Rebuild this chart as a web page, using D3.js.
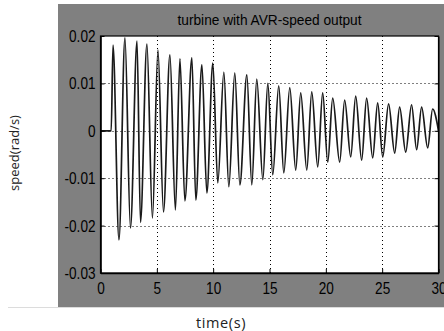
<!DOCTYPE html>
<html>
<head>
<meta charset="utf-8">
<script src="https://cdn.jsdelivr.net/npm/d3@7"></script>
<style>
  html, body { margin: 0; padding: 0; background: #fff; }
  svg { display: block; }
</style>
</head>
<body>
<div id="chart"></div>
<script>
// values
const xTicks = [0, 5, 10, 15, 20, 25, 30];
const yTicks = [-0.03, -0.02, -0.01, 0, 0.01, 0.02];

// flat start before the disturbance
const startTimes = [0, 0.95];
const startValues = [0, 0];

// local maxima of the speed output
const peakTimes = [1.11, 2.17, 3.24, 4.12, 5.10, 6.16, 7.05, 8.11, 9.00, 9.97,
  10.95, 11.92, 12.99, 13.87, 14.85, 15.82, 16.80, 17.77, 18.75, 19.72,
  20.61, 21.67, 22.65, 23.62, 24.60, 25.57, 26.55, 27.61, 28.50, 29.48];
const peakValues = [0.0181, 0.0196, 0.0189, 0.0183, 0.0170, 0.0160, 0.0152, 0.0154, 0.0139, 0.0143,
  0.0124, 0.0122, 0.0118, 0.0109, 0.0100, 0.0095, 0.0091, 0.0080, 0.0082, 0.0080,
  0.0069, 0.0065, 0.0073, 0.0069, 0.0059, 0.0057, 0.0050, 0.0055, 0.0050, 0.0046];

// local minima of the speed output
const troughTimes = [1.64, 2.66, 3.55, 4.61, 5.59, 6.65, 7.49, 8.46, 9.44, 10.41,
  11.39, 12.37, 13.43, 14.41, 15.29, 16.27, 17.33, 18.31, 19.28, 20.17,
  21.23, 22.21, 23.18, 24.16, 25.05, 26.11, 27.09, 28.06, 29.04];
const troughValues = [-0.0230, -0.0205, -0.0193, -0.0184, -0.0171, -0.0167, -0.0148, -0.0146, -0.0131, -0.0110,
  -0.0118, -0.0114, -0.0114, -0.0103, -0.0093, -0.0089, -0.0083, -0.0083, -0.0076, -0.0066,
  -0.0066, -0.0055, -0.0062, -0.0057, -0.0055, -0.0047, -0.0045, -0.0040, -0.0036];

const endTimes = [30];
const endValues = [0.0];

const width = 444;
const height = 331;
const labelFont = '"Liberation Sans", Arial, sans-serif';
const squeeze = 0.8; // the original tick font is a narrow face

const svg = d3.select('#chart')
  .append('svg')
  .attr('width', width)
  .attr('height', height);

// figure background
svg.append('rect')
  .attr('x', 0).attr('y', 0)
  .attr('width', width).attr('height', height)
  .attr('fill', '#ffffff');

svg.append('rect')
  .attr('x', 58).attr('y', 4)
  .attr('width', width - 58).attr('height', 303)
  .attr('fill', '#808080');

svg.append('line')
  .attr('x1', 8).attr('x2', width)
  .attr('y1', 307.5).attr('y2', 307.5)
  .attr('stroke', '#dcdcdc');

const x = d3.scaleLinear().domain([0, 30]).range([100.5, 438.5]);
const y = d3.scaleLinear().domain([-0.03, 0.02]).range([273, 36]);

// plot area
svg.append('rect')
  .attr('x', x(0)).attr('y', y(0.02))
  .attr('width', x(30) - x(0)).attr('height', y(-0.03) - y(0.02))
  .attr('fill', '#fff');

// dotted grid
const grid = svg.append('g')
  .attr('stroke', '#000')
  .attr('stroke-width', 1)
  .attr('stroke-dasharray', '1,3');

grid.selectAll('.vg')
  .data(xTicks.slice(1, -1))
  .enter()
  .append('line')
  .attr('x1', d => Math.round(x(d)) + 0.5).attr('x2', d => Math.round(x(d)) + 0.5)
  .attr('y1', y(0.02)).attr('y2', y(-0.03));

grid.selectAll('.hg')
  .data(yTicks.slice(1, -1))
  .enter()
  .append('line')
  .attr('y1', d => Math.round(y(d)) + 0.5).attr('y2', d => Math.round(y(d)) + 0.5)
  .attr('x1', x(0)).attr('x2', x(30));

// signal
const points = [];
startTimes.forEach((t, i) => points.push([t, startValues[i]]));
peakTimes.forEach((t, i) => points.push([t, peakValues[i]]));
troughTimes.forEach((t, i) => points.push([t, troughValues[i]]));
endTimes.forEach((t, i) => points.push([t, endValues[i]]));
points.sort((a, b) => a[0] - b[0]);

svg.append('clipPath')
  .attr('id', 'clip')
  .append('rect')
  .attr('x', x(0)).attr('y', y(0.02))
  .attr('width', x(30) - x(0)).attr('height', y(-0.03) - y(0.02));

const line = d3.line()
  .x(d => x(d[0]))
  .y(d => y(d[1]))
  .curve(d3.curveMonotoneX);

svg.append('path')
  .datum(points)
  .attr('clip-path', 'url(#clip)')
  .attr('d', line)
  .attr('fill', 'none')
  .attr('stroke', '#1a1a1a')
  .attr('stroke-width', 1.7);

// axes
const fmt = d => d === 0 ? '0' : d.toFixed(2);

const xAxis = svg.append('g')
  .attr('transform', `translate(0,${y(-0.03)})`)
  .call(d3.axisBottom(x).tickValues(xTicks).tickSize(-4).tickSizeOuter(0).tickPadding(9));

const yAxis = svg.append('g')
  .attr('transform', `translate(${x(0)},0)`)
  .call(d3.axisLeft(y).tickValues(yTicks).tickFormat(fmt).tickSize(-4).tickSizeOuter(0).tickPadding(5));

// right side ticks
svg.append('g')
  .attr('transform', `translate(${x(30)},0)`)
  .call(d3.axisRight(y).tickValues(yTicks).tickFormat('').tickSize(-4).tickSizeOuter(0));

[xAxis, yAxis].forEach(a => {
  a.selectAll('text')
    .attr('fill', '#000')
    .style('font-family', labelFont)
    .style('font-size', '17px')
    .attr('transform', `scale(${squeeze},1)`);
  a.select('.domain').attr('stroke', '#000').attr('stroke-width', 1.6);
});
// keep the y labels' right edge at the same spot after squeezing
yAxis.selectAll('text').attr('x', -5 / squeeze);

// box
svg.append('rect')
  .attr('x', x(0)).attr('y', y(0.02))
  .attr('width', x(30) - x(0)).attr('height', y(-0.03) - y(0.02))
  .attr('fill', 'none')
  .attr('stroke', '#000')
  .attr('stroke-width', 1.2);

// title
svg.append('text')
  .attr('x', (x(0) + x(30)) / 2)
  .attr('y', 25)
  .attr('text-anchor', 'middle')
  .style('font-family', labelFont)
  .style('font-size', '15px')
  .attr('textLength', 184)
  .attr('lengthAdjust', 'spacingAndGlyphs')
  .attr('fill', '#000')
  .text('turbine with AVR-speed output');

// axis labels
svg.append('text')
  .attr('transform', 'translate(19,153) rotate(-90)')
  .attr('text-anchor', 'middle')
  .style('font-family', '"Open Sans", "Noto Sans", sans-serif')
  .style('font-size', '13px')
  .attr('fill', '#222')
  .text('speed(rad/s)');

svg.append('text')
  .attr('x', 221)
  .attr('y', 328)
  .attr('text-anchor', 'middle')
  .style('font-family', '"Open Sans", "Noto Sans", sans-serif')
  .style('font-size', '14.5px')
  .style('letter-spacing', '0.6px')
  .attr('fill', '#222')
  .text('time(s)');
</script>
</body>
</html>
